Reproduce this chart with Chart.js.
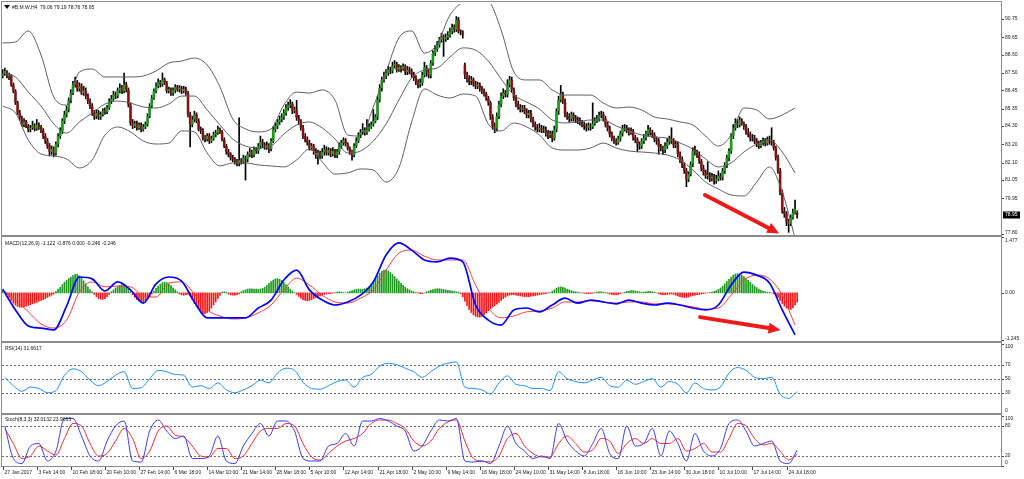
<!DOCTYPE html>
<html>
<head>
<meta charset="utf-8">
<script src="https://cdn.jsdelivr.net/npm/chart.js@4.4.1/dist/chart.umd.min.js"></script>
<style>
html,body{margin:0;padding:0;background:#fff;overflow:hidden;}
#wrap{position:relative;width:1024px;height:479px;background:#fff;}
#wrap canvas{position:absolute;left:0;}
.ln{position:absolute;background:#8c8c8c;}
.ttl{position:absolute;font:5px "Liberation Sans",Arial,sans-serif;color:#111;white-space:nowrap;line-height:6px;}
#tri{position:absolute;left:4px;top:5px;width:0;height:0;border-left:3px solid transparent;border-right:3px solid transparent;border-top:4px solid #000;}
</style>
</head>
<body>
<div id="wrap">
<canvas id="cP" width="1024" height="237" style="top:0px"></canvas>
<canvas id="cM" width="1024" height="105" style="top:237px"></canvas>
<canvas id="cR" width="1024" height="71" style="top:343px"></canvas>
<canvas id="cS" width="1024" height="64" style="top:415px"></canvas>
<div class="ln" style="left:1px;top:1px;width:1001px;height:1px"></div>
<div class="ln" style="left:1px;top:1px;width:1px;height:466px"></div>
<div class="ln" style="left:1001px;top:1px;width:1px;height:466px"></div>
<div class="ln" style="left:1px;top:466px;width:1001px;height:1px"></div>
<div class="ln" style="left:1px;top:235px;width:1001px;height:2px"></div>
<div class="ln" style="left:1px;top:341px;width:1001px;height:2px"></div>
<div class="ln" style="left:1px;top:413px;width:1001px;height:2px"></div>
<div id="tri"></div>
<div class="ttl" style="left:12px;top:4px">#B.M.W,H4&nbsp; 79.06 79.19 78.76 78.95</div>
<div class="ttl" style="left:5px;top:240px">MACD(12,26,9) -1.122 -0.876 0.000 -0.246 -0.246</div>
<div class="ttl" style="left:5px;top:345px">RSI(14) 31.6617</div>
<div class="ttl" style="left:5px;top:416px">Stoch(8,3,3) 32.0132 23.9665</div>
</div>
<script>
// ---------------- DATA ----------------
const opens = [
87.30,87.45,87.60,87.30,87.35,86.80,86.40,85.70,85.10,84.80,
84.40,84.55,84.30,84.10,84.20,84.35,84.15,84.40,84.25,84.05,
83.70,83.40,83.10,82.75,82.90,82.65,83.20,83.70,84.00,84.60,
85.00,85.30,85.85,86.30,86.80,86.95,86.55,86.70,86.30,86.45,
86.10,85.80,85.50,85.10,84.90,85.10,84.85,85.00,85.20,85.15,
85.40,85.80,85.95,86.20,86.10,86.45,86.60,86.40,86.80,86.50,
85.60,84.50,84.30,84.45,84.20,84.35,84.10,84.25,84.40,84.90,
85.50,86.00,86.40,86.70,86.95,86.80,87.10,86.90,86.40,86.50,
86.30,86.45,86.65,86.50,86.60,86.40,86.55,86.30,85.00,84.40,
84.70,85.00,84.60,84.10,84.00,83.60,83.50,83.70,83.40,83.55,
83.80,83.90,84.10,83.95,83.50,83.10,82.75,82.60,82.40,82.30,
82.15,82.05,82.25,82.15,82.40,82.30,82.60,82.75,82.55,82.90,
82.80,83.10,83.35,83.20,83.05,83.15,82.90,83.40,84.10,84.30,
84.55,84.70,84.85,85.10,85.40,85.55,85.65,85.20,85.30,84.80,
84.60,84.20,83.70,83.50,83.30,83.00,83.10,82.80,82.55,82.70,
82.50,82.75,82.90,82.70,82.85,82.60,82.80,82.55,82.75,83.10,
83.30,83.45,83.20,82.95,82.70,82.55,83.10,83.40,83.75,83.95,
84.05,83.90,84.10,84.25,84.40,84.60,84.85,85.90,86.60,87.10,
87.30,87.50,87.70,87.60,87.95,88.05,87.70,87.85,87.75,87.90,
87.55,87.70,87.60,87.40,87.20,86.95,86.80,86.90,87.40,87.85,
87.60,87.35,88.10,88.70,88.95,89.20,89.50,89.70,89.55,89.65,
89.80,90.00,90.25,90.10,90.70,90.00,89.95,88.00,87.40,87.20,
87.00,87.10,86.85,86.70,86.80,86.55,86.40,86.25,86.00,85.70,
84.90,84.30,84.15,84.90,85.60,86.10,86.30,86.20,86.80,87.10,
86.50,86.00,85.60,85.45,85.30,85.40,85.20,84.95,85.10,84.70,
84.40,84.25,84.10,84.20,84.05,84.10,83.90,83.75,83.85,83.55,
84.10,85.20,85.90,86.20,85.80,85.00,84.90,84.75,85.00,84.80,
84.70,84.60,84.50,84.40,84.30,84.20,84.35,84.25,84.45,84.60,
84.75,84.95,85.00,84.75,84.40,84.15,83.80,83.55,83.40,83.30,
83.55,83.85,84.15,84.20,84.05,83.90,84.00,83.60,83.45,83.20,
83.10,83.40,83.60,83.85,84.10,83.90,83.75,83.50,83.40,83.05,
82.95,82.85,83.10,83.35,83.50,83.40,83.15,83.20,82.60,82.30,
81.95,81.60,81.10,81.40,82.00,82.80,82.70,82.55,82.20,81.75,
81.50,81.30,81.35,81.15,81.25,81.00,81.10,81.30,81.20,81.60,
81.95,82.40,82.80,83.70,84.20,84.50,84.35,84.65,84.45,84.30,
83.95,83.80,83.55,83.60,83.40,83.25,83.10,83.30,83.40,83.25,
83.50,83.35,83.30,83.00,82.40,81.60,80.30,79.20,79.00,78.55,78.40,78.80,79.10,79.06];
const highs = [
87.70,87.80,87.65,87.50,87.40,86.90,86.50,85.80,85.25,84.90,
84.75,84.65,84.40,84.35,84.60,84.45,84.70,84.50,84.35,84.15,
83.85,83.55,83.25,83.10,83.05,83.35,83.85,84.20,84.75,85.20,
85.50,86.00,86.50,87.00,87.25,87.05,86.90,86.85,86.70,86.60,
86.25,85.95,85.65,85.25,85.30,85.25,85.15,85.35,85.40,85.55,
85.95,86.15,86.40,86.35,86.60,86.85,86.75,87.50,86.95,86.60,
85.70,84.70,84.60,84.60,84.50,84.50,84.40,84.55,85.05,85.65,
86.15,86.55,86.90,87.15,87.05,87.50,87.20,87.00,86.65,86.60,
86.60,86.80,86.75,86.75,86.70,86.70,86.65,86.40,85.15,84.90,
85.20,85.10,84.75,84.25,84.15,83.75,83.85,83.85,83.70,83.95,
84.05,84.30,84.20,84.05,83.60,83.20,82.90,82.70,82.55,82.40,
82.30,84.80,82.35,82.55,82.50,82.75,82.95,82.85,83.05,83.00,
83.25,83.70,83.50,83.30,83.35,83.25,83.55,84.25,84.50,84.70,
84.90,85.05,85.30,85.60,85.75,85.90,85.75,85.45,85.85,84.95,
84.70,84.35,83.85,83.65,83.45,83.25,83.20,82.95,82.85,82.80,
82.95,83.15,83.05,83.00,82.95,83.00,82.90,82.90,83.30,83.45,
83.60,83.55,83.30,83.05,82.85,83.25,83.60,83.90,84.10,84.45,
84.20,84.70,84.45,84.55,85.30,85.00,86.10,86.80,87.25,87.55,
87.70,87.90,87.85,88.15,88.25,88.15,88.00,87.95,88.05,88.00,
87.90,87.85,87.75,87.55,87.35,87.10,87.15,87.55,88.15,87.95,
87.75,88.25,88.85,89.15,89.40,89.65,89.90,89.80,89.85,90.00,
90.20,90.45,90.40,90.90,90.85,90.10,90.05,88.10,87.55,87.35,
87.30,87.20,87.00,86.95,86.90,86.70,86.55,86.35,86.10,85.80,
85.00,84.50,85.10,85.80,86.30,86.55,86.45,87.10,87.30,87.25,
86.60,86.15,85.80,85.60,85.55,85.55,85.35,85.25,85.25,84.85,
84.55,84.40,84.45,84.35,84.30,84.25,84.05,84.00,84.00,84.30,
85.35,86.10,86.75,86.35,85.95,85.15,85.05,85.15,85.10,84.95,
84.85,84.80,84.65,84.55,84.45,84.50,84.45,85.70,84.80,84.95,
85.15,85.20,85.15,84.90,84.55,84.30,83.95,83.70,83.55,83.70,
84.00,84.35,84.40,84.35,84.20,84.20,84.10,83.75,83.60,83.35,
83.55,83.80,84.00,84.35,84.20,84.05,83.90,83.65,83.55,83.20,
83.10,83.30,83.55,83.70,84.20,83.55,83.40,83.35,82.75,82.45,
82.10,81.75,81.55,82.15,83.00,83.10,82.85,82.75,82.30,81.95,
81.65,82.15,81.50,81.45,81.40,81.35,81.60,81.45,81.75,82.10,
82.55,82.95,83.85,84.40,84.75,84.70,84.85,84.75,84.55,84.40,
84.15,83.95,83.80,83.75,83.55,83.40,83.45,83.60,83.55,83.65,
83.70,84.20,83.45,83.10,82.55,81.75,80.45,79.40,79.15,78.70,78.95,79.30,79.85,79.19];
const lows = [
87.20,87.35,87.20,87.10,86.70,86.30,85.60,85.00,84.65,84.30,
84.25,84.20,83.95,83.95,84.10,84.00,84.05,84.10,83.90,83.55,
83.25,82.95,82.50,82.60,82.45,82.55,83.05,83.55,83.85,84.45,
84.85,85.15,85.70,86.20,86.65,86.40,86.40,86.20,86.15,85.95,
85.65,85.35,84.95,84.70,84.75,84.70,84.70,84.90,85.00,85.05,
85.30,85.65,85.85,85.95,86.00,86.30,86.25,86.30,86.35,85.45,
84.35,84.15,84.20,84.05,84.10,83.95,84.00,84.15,84.30,84.80,
85.40,85.90,86.30,86.60,86.65,86.70,86.80,86.30,86.30,86.15,
86.15,86.30,86.40,86.35,86.25,86.30,86.15,84.85,83.05,84.25,
84.55,84.50,84.00,83.85,83.45,83.35,83.40,83.25,83.30,83.45,
83.65,83.80,83.85,83.40,83.00,82.60,82.45,82.25,82.15,82.00,
81.90,81.90,82.00,82.05,81.05,82.15,82.45,82.40,82.45,82.65,
82.65,82.95,83.00,82.90,82.90,82.70,82.80,83.30,83.95,84.15,
84.40,84.55,84.70,84.95,85.25,85.40,85.05,85.10,84.65,84.40,
84.05,83.55,83.35,83.15,82.85,82.85,82.60,82.35,82.00,82.35,
82.35,82.55,82.55,82.55,82.45,82.50,82.40,82.40,82.60,82.95,
83.15,83.10,82.85,82.60,82.25,82.45,83.00,83.30,83.60,83.80,
83.75,83.80,84.00,84.15,84.30,84.50,84.70,85.75,86.40,86.95,
87.15,87.35,87.45,87.50,87.80,87.55,87.60,87.55,87.65,87.40,
87.40,87.45,87.25,87.05,86.80,86.60,86.65,86.75,87.25,87.30,
87.20,87.20,87.95,88.55,88.80,89.05,89.35,88.50,89.40,89.50,
89.65,89.85,89.95,90.00,89.90,89.80,89.60,87.15,86.95,86.80,
86.80,86.70,86.55,86.55,86.40,86.25,86.10,85.85,85.55,84.70,
84.10,83.90,84.00,84.75,85.45,85.95,86.05,86.05,86.65,86.35,
85.85,85.45,85.30,85.15,85.15,85.05,84.80,84.80,84.55,84.25,
84.05,83.95,83.95,83.90,83.90,83.70,83.55,83.60,83.35,83.45,
83.95,85.00,85.75,85.65,84.85,84.70,84.55,84.60,84.60,84.50,
84.45,84.35,84.25,84.10,84.00,84.05,84.05,84.15,84.35,84.50,
84.60,84.80,84.60,84.25,84.00,83.65,83.40,83.25,83.15,83.20,
83.40,83.70,84.00,83.90,83.75,83.80,83.45,83.30,82.75,82.90,
82.95,83.25,83.45,83.70,83.75,83.60,83.35,83.20,82.60,82.80,
82.60,82.70,82.95,83.20,83.25,83.00,83.00,82.45,82.10,81.80,
81.45,80.65,80.95,81.30,81.85,82.55,82.40,82.05,81.60,81.35,
81.15,81.10,80.95,81.00,80.80,80.85,81.00,81.05,81.05,81.45,
81.80,82.20,82.65,83.55,84.05,84.20,84.25,84.35,84.10,83.80,
83.65,83.40,83.40,83.25,83.05,82.95,83.00,83.15,83.10,83.15,
83.20,83.15,82.85,82.25,81.45,80.15,79.05,78.80,78.30,77.90,78.30,78.70,79.00,78.76];
const closes = [
87.45,87.60,87.30,87.35,86.80,86.40,85.70,85.10,84.80,84.40,
84.55,84.30,84.10,84.20,84.35,84.15,84.40,84.25,84.05,83.70,
83.40,83.10,82.75,82.90,82.65,83.20,83.70,84.00,84.60,85.00,
85.30,85.85,86.30,86.80,86.95,86.55,86.70,86.30,86.45,86.10,
85.80,85.50,85.10,84.90,85.10,84.85,85.00,85.20,85.15,85.40,
85.80,85.95,86.20,86.10,86.45,86.60,86.40,86.80,86.50,85.60,
84.50,84.30,84.45,84.20,84.35,84.10,84.25,84.40,84.90,85.50,
86.00,86.40,86.70,86.95,86.80,87.10,86.90,86.40,86.50,86.30,
86.45,86.65,86.50,86.60,86.40,86.55,86.30,85.00,84.40,84.70,
85.00,84.60,84.10,84.00,83.60,83.50,83.70,83.40,83.55,83.80,
83.90,84.10,83.95,83.50,83.10,82.75,82.60,82.40,82.30,82.15,
82.05,82.25,82.15,82.40,82.30,82.60,82.75,82.55,82.90,82.80,
83.10,83.35,83.20,83.05,83.15,82.90,83.40,84.10,84.30,84.55,
84.70,84.85,85.10,85.40,85.55,85.65,85.20,85.30,84.80,84.60,
84.20,83.70,83.50,83.30,83.00,83.10,82.80,82.55,82.70,82.50,
82.75,82.90,82.70,82.85,82.60,82.80,82.55,82.75,83.10,83.30,
83.45,83.20,82.95,82.70,82.55,83.10,83.40,83.75,83.95,84.05,
83.90,84.10,84.25,84.40,84.60,84.85,85.90,86.60,87.10,87.30,
87.50,87.70,87.60,87.95,88.05,87.70,87.85,87.75,87.90,87.55,
87.70,87.60,87.40,87.20,86.95,86.80,86.90,87.40,87.85,87.60,
87.35,88.10,88.70,88.95,89.20,89.50,89.70,89.55,89.65,89.80,
90.00,90.25,90.10,90.70,90.00,89.95,89.85,87.40,87.20,87.00,
87.10,86.85,86.70,86.80,86.55,86.40,86.25,86.00,85.70,84.90,
84.30,84.15,84.90,85.60,86.10,86.30,86.20,86.80,87.10,86.50,
86.00,85.60,85.45,85.30,85.40,85.20,84.95,85.10,84.70,84.40,
84.25,84.10,84.20,84.05,84.10,83.90,83.75,83.85,83.55,84.10,
85.20,85.90,86.20,85.80,85.00,84.90,84.75,85.00,84.80,84.70,
84.60,84.50,84.40,84.30,84.20,84.35,84.25,84.45,84.60,84.75,
84.95,85.00,84.75,84.40,84.15,83.80,83.55,83.40,83.30,83.55,
83.85,84.15,84.20,84.05,83.90,84.00,83.60,83.45,83.20,83.10,
83.40,83.60,83.85,84.10,83.90,83.75,83.50,83.40,83.05,82.95,
82.85,83.10,83.35,83.50,83.40,83.15,83.20,82.60,82.30,81.95,
81.60,81.10,81.40,82.00,82.80,82.70,82.55,82.20,81.75,81.50,
81.30,81.35,81.15,81.25,81.00,81.10,81.30,81.20,81.60,81.95,
82.40,82.80,83.70,84.20,84.50,84.35,84.65,84.45,84.30,83.95,
83.80,83.55,83.60,83.40,83.25,83.10,83.30,83.40,83.25,83.50,
83.35,83.30,83.00,82.40,81.60,80.30,79.20,79.00,78.55,78.40,78.80,79.10,79.30,78.95];

// Bollinger bands, one reading every 6 bars (bar 0, 6, 12 ...)
const bbStep = 6;
const bbUpper = [89.31,89.37,90.03,88.58,86.05,85.57,87.56,87.74,87.26,87.26,87.26,87.32,87.62,88.10,88.22,88.40,87.98,86.66,84.73,84.13,83.95,84.13,85.57,86.35,86.29,86.48,85.87,83.76,83.70,85.45,87.56,89.61,90.03,88.70,89.25,90.99,91.75,91.90,91.80,90.09,87.56,87.08,87.08,86.48,86.17,86.17,86.17,85.69,85.39,85.45,85.27,84.85,84.73,84.55,84.37,83.70,83.10,83.76,85.39,85.27,84.73,84.97,85.39];
const bbMiddle = [87.50,87.26,86.35,85.51,84.43,83.88,84.55,85.09,85.63,85.81,85.69,85.45,85.39,85.63,86.11,86.11,85.27,84.37,83.52,83.10,82.98,83.10,83.82,84.37,84.55,84.19,83.52,82.68,82.80,83.40,84.43,85.87,87.20,87.68,87.80,88.46,89.01,88.88,88.22,87.14,86.17,85.75,85.33,84.67,84.49,84.55,84.67,84.67,84.31,84.01,83.76,83.64,83.58,83.28,82.92,82.32,81.84,82.08,82.74,83.22,83.46,82.74,81.48];
const bbLower = [85.51,85.09,83.46,82.62,82.50,82.32,81.78,82.26,83.76,84.25,83.95,83.40,83.22,83.28,84.01,83.95,82.68,81.90,82.08,82.08,81.96,81.90,81.84,82.26,82.92,82.14,81.41,81.48,81.72,81.66,80.93,81.78,84.55,86.54,86.17,85.99,86.23,86.11,84.43,84.01,84.49,84.25,83.76,82.98,82.86,82.86,82.98,83.28,82.98,82.80,82.74,82.68,82.56,82.26,81.66,80.93,80.51,80.15,80.09,80.93,81.84,80.33,77.56];

// MACD lines, one reading every 6 bars
const macdStep = 6;
const macdMain = [0.10,-0.45,-0.875,-0.93,-0.98,-0.35,0.42,0.37,0.05,0.29,0.08,-0.27,0.24,0.42,0.31,-0.24,-0.66,-0.66,-0.66,-0.66,-0.40,-0.19,0.34,0.60,0.08,-0.19,-0.32,-0.24,-0.06,0.29,1.00,1.32,1.13,0.87,0.82,0.92,0.82,-0.32,-0.72,-0.85,-0.45,-0.40,-0.50,-0.32,-0.14,-0.27,-0.19,-0.24,-0.29,-0.19,-0.27,-0.32,-0.27,-0.32,-0.40,-0.45,-0.32,0.21,0.55,0.47,0.26,-0.45,-1.11];
const macdSignal = [0.08,-0.19,-0.50,-0.82,-0.93,-0.72,0.02,0.29,0.16,0.18,0.16,-0.08,-0.11,0.26,0.29,-0.03,-0.45,-0.61,-0.69,-0.66,-0.53,-0.32,0.08,0.39,0.21,-0.06,-0.24,-0.27,-0.14,0.08,0.60,1.05,1.13,0.97,0.87,0.87,0.87,0.21,-0.40,-0.66,-0.61,-0.50,-0.48,-0.40,-0.24,-0.24,-0.21,-0.24,-0.27,-0.24,-0.24,-0.29,-0.29,-0.32,-0.37,-0.43,-0.40,-0.06,0.34,0.47,0.37,-0.06,-0.85];
// MACD histogram, one value per bar
const macdHist = [
0.08,0.04,
-0.05,-0.12,-0.20,-0.27,-0.32,-0.36,-0.38,-0.38,-0.37,-0.35,-0.33,-0.31,-0.29,-0.27,-0.25,-0.22,-0.20,-0.18,-0.15,-0.12,-0.09,-0.06,-0.03,
0.04,0.10,0.15,0.22,0.28,0.33,0.38,0.42,0.46,0.49,0.49,0.45,0.39,0.32,0.24,0.16,0.09,0.03,
-0.04,-0.10,-0.15,-0.17,-0.17,-0.15,-0.10,-0.04,
0.03,0.08,0.13,0.17,0.20,0.22,0.21,0.17,0.11,0.04,
-0.05,-0.12,-0.18,-0.22,-0.24,-0.24,-0.21,-0.16,-0.10,-0.03,
0.05,0.12,0.18,0.23,0.27,0.28,0.27,0.24,0.19,0.13,0.08,0.03,
-0.03,-0.05,-0.06,-0.05,-0.04,-0.08,
-0.18,-0.28,-0.36,-0.43,-0.50,-0.55,-0.55,-0.52,-0.47,-0.40,-0.32,-0.24,-0.15,-0.07,
0.02,0.03,0.02,
-0.03,-0.05,-0.06,-0.06,-0.05,-0.03,
0.03,0.06,0.08,0.10,0.11,0.11,0.10,0.10,0.09,0.10,0.12,0.15,0.20,0.25,0.30,0.34,
0.37,0.38,0.36,0.33,0.28,0.22,0.16,0.10,0.05,0.01,-0.04,-0.09,
-0.14,-0.18,-0.20,-0.21,-0.20,-0.18,-0.15,-0.12,-0.10,-0.08,
-0.06,-0.04,-0.03,-0.02,-0.02,-0.01,0.01,0.02,0.03,0.02,0.01,0.00,
0.02,0.04,0.06,0.08,0.09,0.10,0.10,0.10,0.11,0.13,0.16,0.22,0.30,0.38,
0.45,0.52,0.57,0.60,0.60,0.58,0.54,0.49,0.43,0.37,0.31,0.25,0.20,0.15,0.11,
0.08,0.05,0.03,0.01,-0.01,-0.02,-0.02,0.00,0.03,0.05,0.07,0.09,0.10,0.11,0.11,0.10,0.09,0.08,0.07,0.06,0.05,0.04,0.03,0.02,
-0.02,-0.10,-0.22,-0.34,-0.44,-0.52,-0.58,-0.62,-0.64,-0.64,-0.62,-0.58,-0.53,-0.47,-0.42,-0.38,-0.34,-0.30,-0.25,-0.20,-0.15,
-0.11,-0.08,-0.06,-0.05,-0.05,-0.06,-0.07,-0.08,-0.09,-0.10,-0.10,-0.10,-0.09,-0.08,-0.07,-0.06,-0.05,-0.04,-0.03,-0.02,-0.01,0.01,0.04,0.08,0.12,
0.15,0.16,0.15,0.13,0.10,0.08,0.06,0.04,0.03,0.02,
0.01,0.00,-0.01,-0.02,-0.02,-0.02,-0.01,0.01,0.02,0.03,0.03,0.02,0.01,-0.01,-0.03,-0.04,-0.05,-0.05,-0.04,-0.02,0.00,0.02,0.04,0.05,0.06,0.06,0.05,0.04,0.03,0.02,
0.02,0.03,0.04,0.04,0.03,0.02,0.00,-0.02,-0.04,-0.05,-0.05,-0.04,-0.03,-0.03,-0.04,-0.06,-0.08,-0.10,-0.11,-0.12,-0.12,-0.11,-0.09,-0.07,-0.06,-0.05,-0.04,-0.03,-0.02,-0.01,
0.00,0.01,0.02,0.04,0.06,0.09,0.13,0.18,0.24,0.30,
0.36,0.42,0.47,0.50,0.51,0.50,0.47,0.43,0.38,0.33,0.28,0.23,0.18,0.14,0.10,0.07,0.05,0.03,0.02,0.01,0.00,-0.02,
-0.06,-0.12,-0.20,-0.28,-0.35,-0.40,-0.43,-0.44,-0.40,-0.32,-0.246];

// RSI and Stochastic, one reading every 4 bars starting at bar 1
const oscStep = 4, oscStart = 1;
const rsi = [52,40,32,38,36,30,33,55,64,60,48,40,46,55,60,36,37,50,62,60,56,55,38,40,36,44,34,30,34,40,48,44,58,65,62,45,36,35,40,46,48,38,52,56,68,72,70,65,60,52,60,68,72,74,38,36,34,28,44,54,42,40,36,36,33,60,50,46,44,48,52,40,38,48,42,46,50,38,46,42,30,44,36,34,38,58,66,62,52,50,52,28,22,31.66];
const stochK = [80,15,5,40,45,10,30,95,95,60,20,10,50,80,90,10,8,70,92,70,55,60,15,15,20,60,10,5,40,65,85,60,90,90,70,15,10,10,40,45,65,40,90,90,95,90,80,70,30,40,70,92,90,95,10,8,10,5,40,80,45,30,15,20,15,85,50,30,20,45,75,25,15,80,40,45,75,20,70,45,10,65,30,20,35,85,92,70,40,45,50,10,5,32.01];
const stochD = [75,45,15,20,40,30,22,55,85,80,45,20,25,50,75,55,15,30,70,80,62,58,40,20,18,35,35,15,20,45,70,75,75,85,80,45,18,12,25,40,50,55,65,85,92,92,85,75,50,40,50,75,88,92,50,15,10,8,20,55,65,40,25,18,18,45,60,45,28,32,55,50,25,45,55,45,55,45,45,55,30,35,45,28,28,55,85,80,55,42,45,30,12,23.97];

// Axis labels
const xTickStep = 16;
const xTickLabels = ['27 Jan 2017','3 Feb 14:00','10 Feb 18:00','20 Feb 10:00','27 Feb 14:00','6 Mar 18:00','14 Mar 10:00','21 Mar 14:00','28 Mar 18:00','5 Apr 10:00','12 Apr 14:00','21 Apr 18:00','2 May 10:00','9 May 14:00','16 May 18:00','24 May 10:00','31 May 14:00','8 Jun 18:00','16 Jun 10:00','23 Jun 14:00','30 Jun 18:00','10 Jul 10:00','17 Jul 14:00','24 Jul 18:00'];
const priceTickLabels = ['90.75','89.65','88.60','87.50','86.45','85.35','84.30','83.20','82.10','81.05','79.95','77.80'];
const macdTickLabels = ['1.477','0.00','-1.245'];
const rsiTickLabels = ['100','70','50','30','0'];
const stochTickLabels = ['100','80','20','0'];
const rsiLevels = [70,50,30];
const stochLevels = [80,20];
const lastPrice = '78.95';
// Annotation arrows: [bar, value] -> [bar, value]
const priceArrow = {from:[329.7, 80.15], to:[364.6, 77.83]};
const macdArrow = {from:[327.4, -0.64], to:[365.2, -0.98]};

// ---------------- RENDER ----------------
const X_MIN = -0.33, X_MAX = 468.7;
const FONT = '5px "Liberation Sans", Arial, sans-serif';
const UP = '#12a012', DOWN = '#8e0c0c';

function drawArrow(ctx, x1, y1, x2, y2) {
  const ang = Math.atan2(y2 - y1, x2 - x1), head = 12, w = 5.5;
  const bx = x2 - head * Math.cos(ang), by = y2 - head * Math.sin(ang);
  ctx.save();
  ctx.strokeStyle = '#ee1a1a'; ctx.fillStyle = '#ee1a1a';
  ctx.lineWidth = 4; ctx.lineCap = 'round';
  ctx.beginPath(); ctx.moveTo(x1, y1); ctx.lineTo(bx, by); ctx.stroke();
  ctx.beginPath(); ctx.moveTo(x2, y2);
  ctx.lineTo(bx + w * Math.sin(ang), by - w * Math.cos(ang));
  ctx.lineTo(bx - w * Math.sin(ang), by + w * Math.cos(ang));
  ctx.closePath(); ctx.fill();
  ctx.restore();
}

const panelCfg = {
  cP: {yTicks: priceTickLabels, arrow: priceArrow, priceBox: lastPrice},
  cM: {yTicks: macdTickLabels, arrow: macdArrow},
  cR: {yTicks: rsiTickLabels, levels: rsiLevels},
  cS: {yTicks: stochTickLabels, levels: stochLevels, xTicks: true}
};

const mtPlugin = {
  id: 'mt',
  beforeDatasetsDraw(chart) {
    const o = panelCfg[chart.canvas.id];
    if (!o || !o.levels) return;
    const ctx = chart.ctx, a = chart.chartArea, ys = chart.scales.y;
    ctx.save();
    ctx.strokeStyle = '#6a6a6a'; ctx.lineWidth = 1; ctx.setLineDash([2, 2]);
    o.levels.forEach(v => {
      const y = Math.round(ys.getPixelForValue(v)) + 0.5;
      ctx.beginPath(); ctx.moveTo(a.left, y); ctx.lineTo(a.right, y); ctx.stroke();
    });
    ctx.restore();
  },
  afterDraw(chart) {
    const o = panelCfg[chart.canvas.id];
    if (!o) return;
    const ctx = chart.ctx, a = chart.chartArea, ys = chart.scales.y, xs = chart.scales.x;
    if (o.arrow) {
      drawArrow(ctx, xs.getPixelForValue(o.arrow.from[0]), ys.getPixelForValue(o.arrow.from[1]),
                xs.getPixelForValue(o.arrow.to[0]), ys.getPixelForValue(o.arrow.to[1]));
    }
    ctx.save();
    ctx.font = FONT; ctx.textBaseline = 'middle'; ctx.textAlign = 'left'; ctx.lineWidth = 1;
    o.yTicks.forEach(t => {
      const y = ys.getPixelForValue(parseFloat(t));
      const yy = Math.round(y) + 0.5;
      ctx.strokeStyle = '#444';
      ctx.beginPath(); ctx.moveTo(a.right, yy); ctx.lineTo(a.right + 3, yy); ctx.stroke();
      const yc = Math.min(Math.max(y, a.top + 3.5), a.bottom - 3.5);
      ctx.fillStyle = '#1a1a1a';
      ctx.fillText(t, a.right + 4, yc);
    });
    if (o.priceBox) {
      const y = ys.getPixelForValue(parseFloat(o.priceBox));
      ctx.fillStyle = '#000';
      ctx.fillRect(a.right + 2, Math.round(y) - 3.5, 17, 7);
      ctx.fillStyle = '#fff';
      ctx.fillText(o.priceBox, a.right + 4, y);
    }
    if (o.xTicks) {
      xTickLabels.forEach((t, k) => {
        const x = Math.round(xs.getPixelForValue(k * xTickStep)) + 0.5;
        ctx.strokeStyle = '#444';
        ctx.beginPath(); ctx.moveTo(x, a.bottom + 1); ctx.lineTo(x, a.bottom + 4); ctx.stroke();
        ctx.fillStyle = '#1a1a1a';
        ctx.fillText(t, x + 1, a.bottom + 6.5);
      });
    }
    ctx.restore();
  }
};
Chart.register(mtPlugin);

const pts = (arr, step, start) => arr.map((v, k) => ({x: start + k * step, y: v}));

function baseOptions(yMin, yMax, pad) {
  return {
    responsive: false, animation: false, devicePixelRatio: 1, events: [],
    layout: {padding: pad},
    plugins: {legend: {display: false}, tooltip: {enabled: false}},
    scales: {
      x: {type: 'linear', min: X_MIN, max: X_MAX, display: false, offset: false, grid: {offset: false}},
      y: {type: 'linear', min: yMin, max: yMax, display: false}
    }
  };
}
const lineDs = (data, color, width, order, tension) => ({type: 'line', data, borderColor: color, borderWidth: width, pointRadius: 0, tension: tension || 0, cubicInterpolationMode: 'monotone', fill: false, order});

// Price panel
const wickData = highs.map((h, i) => ({x: i, y: [lows[i], h]}));
const bodyData = opens.map((o, i) => ({x: i, y: [o, closes[i]]}));
const bodyColors = opens.map((o, i) => closes[i] >= o ? UP : DOWN);
new Chart(document.getElementById('cP'), {
  type: 'bar',
  data: {datasets: [
    lineDs(pts(bbUpper, bbStep, 0), '#5e5e5e', 1, 0, 0.4),
    lineDs(pts(bbMiddle, bbStep, 0), '#5e5e5e', 1, 0, 0.4),
    lineDs(pts(bbLower, bbStep, 0), '#5e5e5e', 1, 0, 0.4),
    {type: 'bar', data: bodyData, backgroundColor: bodyColors, borderColor: '#9a9a9a', borderWidth: {left: 0.5, right: 0.5, top: 0, bottom: 0}, barThickness: 2.6, grouped: false, order: 1},
    {type: 'bar', data: wickData, backgroundColor: '#000', barThickness: 1, grouped: false, order: 2}
  ]},
  options: baseOptions(77.6795, 91.6554, {left: 2, right: 23, top: 4, bottom: 1})
});

// MACD panel
new Chart(document.getElementById('cM'), {
  type: 'bar',
  data: {datasets: [
    lineDs(pts(macdMain, macdStep, 0), '#0000ff', 1.7, 0, 0.4),
    lineDs(pts(macdSignal, macdStep, 0), '#ff3c3c', 1, 1, 0.4),
    {type: 'bar', data: macdHist.map((v, i) => ({x: i, y: [0, v]})),
     backgroundColor: macdHist.map(v => v >= 0 ? '#1e9a1e' : '#ff1414'), barThickness: 1, grouped: false, order: 2}
  ]},
  options: baseOptions(-1.298, 1.477, {left: 2, right: 23, top: 0, bottom: 0})
});

// RSI panel
new Chart(document.getElementById('cR'), {
  type: 'line',
  data: {datasets: [lineDs(pts(rsi, oscStep, oscStart), '#1e90ff', 1, 0, 0)]},
  options: baseOptions(-0.43, 101, {left: 2, right: 23, top: 0, bottom: 0})
});

// Stochastic panel
new Chart(document.getElementById('cS'), {
  type: 'line',
  data: {datasets: [
    lineDs(pts(stochK, oscStep, oscStart), '#3a3aff', 1, 0, 0.2),
    lineDs(pts(stochD, oscStep, oscStart), '#ff2a2a', 1, 1, 0.2)
  ]},
  options: baseOptions(0, 102, {left: 2, right: 23, top: 0, bottom: 13})
});
</script>
</body>
</html>
